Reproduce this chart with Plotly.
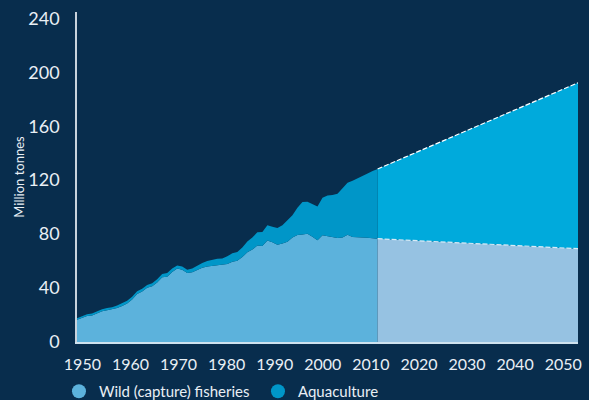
import plotly.graph_objects as go

# ---- data (million tonnes) ----
years_hist = list(range(1950, 2011))
wild_hist = [16.5, 18.0, 19.3, 19.7, 21.3, 22.8, 23.6, 24.2, 25.3, 26.7,
             28.6, 31.6, 35.6, 37.5, 40.2, 41.3, 44.2, 48.1, 48.4, 51.9,
             54.5, 53.6, 51.1, 51.7, 53.6, 55.0, 56.0, 56.5, 56.9, 57.0,
             57.9, 59.5, 60.2, 63.0, 66.5, 68.6, 71.5, 71.2, 75.3, 74.0,
             72.2, 73.0, 74.3, 77.5, 79.3, 79.8, 80.2, 78.0, 75.4, 79.2,
             78.4, 77.5, 77.2, 77.5, 79.6, 77.8, 77.8, 77.6, 77.3, 76.9,
             76.6]
aqua_hist = [1.2, 1.3, 1.3, 1.4, 1.5, 1.5, 1.6, 1.6, 1.7, 1.8,
             1.9, 1.9, 2.0, 2.0, 2.1, 2.2, 2.3, 2.4, 2.8, 2.6,
             2.3, 2.4, 2.5, 2.8, 3.2, 3.5, 4.0, 4.5, 4.8, 5.0,
             5.6, 6.3, 6.6, 7.0, 8.0, 8.9, 9.8, 10.3, 11.2, 11.5,
             12.3, 13.5, 15.7, 16.5, 20.2, 24.0, 23.8, 24.0, 25.1, 27.8,
             30.2, 31.5, 32.8, 36.5, 38.4, 41.7, 43.7, 45.9, 47.7, 49.9,
             51.7]
years_proj = [2010, 2050]
wild_proj = [76.6, 69.2]
aqua_proj = [51.7, 123.0]

x_ticks = list(range(1950, 2051, 10))
y_ticks = list(range(0, 241, 40))
series_names = ["Wild (capture) fisheries", "Aquaculture"]

# ---- style ----
BG = "#082d4d"
C_WILD = "#5cb2dc"
C_AQUA = "#0096c8"
C_WILD_P = "#96c2e2"
C_AQUA_P = "#00aadc"
TXT = "#e9eff5"
FONT = "Lato"

fig = go.Figure()
fig.add_trace(go.Scatter(x=years_hist, y=wild_hist, stackgroup="hist",
                         mode="lines", line=dict(width=0), fillcolor=C_WILD,
                         showlegend=False, hoverinfo="skip"))
fig.add_trace(go.Scatter(x=years_hist, y=aqua_hist, stackgroup="hist",
                         mode="lines", line=dict(width=0), fillcolor=C_AQUA,
                         showlegend=False, hoverinfo="skip"))
fig.add_trace(go.Scatter(x=years_proj, y=wild_proj, stackgroup="proj",
                         mode="lines", line=dict(width=1.2, color="#d8ecf8", dash="5px,2px"),
                         fillcolor=C_WILD_P, showlegend=False, hoverinfo="skip"))
fig.add_trace(go.Scatter(x=years_proj, y=aqua_proj, stackgroup="proj",
                         mode="lines", line=dict(width=1.2, color="#ffffff", dash="5px,2px"),
                         fillcolor=C_AQUA_P, showlegend=False, hoverinfo="skip"))

# legend entries (circle swatches), attached to the label axis
for name, col in zip(series_names, [C_WILD, C_AQUA]):
    fig.add_trace(go.Scatter(x=[None], y=[None], mode="markers", name=name,
                             xaxis="x2", yaxis="y",
                             marker=dict(size=14, color=col, symbol="circle")))

fig.update_layout(
    width=589, height=400,
    margin=dict(l=77, r=11, t=12, b=58, autoexpand=False),
    paper_bgcolor=BG, plot_bgcolor=BG,
    font=dict(family=FONT, color=TXT),
    showlegend=True,
    legend=dict(orientation="h", x=-0.036, xanchor="left", y=-0.10, yanchor="top",
                traceorder="normal",
                font=dict(family=FONT, size=15, color=TXT),
                bgcolor="rgba(0,0,0,0)", entrywidth=154, entrywidthmode="pixels",
                itemwidth=30),
    xaxis=dict(range=[1950, 2050], showticklabels=False, ticks="",
               showgrid=False, zeroline=False, showline=True,
               linecolor="#cfe2ef", linewidth=2, fixedrange=True),
    xaxis2=dict(overlaying="x", anchor="y", side="bottom",
                range=[1948.88, 2053.08], tickvals=x_ticks,
                ticktext=[str(v) for v in x_ticks], ticks="",
                showgrid=False, zeroline=False, showline=False,
                tickfont=dict(family=FONT, size=16, color=TXT),
                ticklabelstandoff=11),
    yaxis=dict(range=[0, 244.7], tickvals=y_ticks, ticks="",
               showgrid=False, zeroline=False, showline=True,
               linecolor="#c8d2dc", linewidth=1.5,
               tickfont=dict(family=FONT, size=18, color=TXT),
               ticklabelstandoff=12,
               title=dict(text="Million tonnes", font=dict(family=FONT, size=13, color=TXT),
                          standoff=1)),
)

fig.write_html("out.html")
